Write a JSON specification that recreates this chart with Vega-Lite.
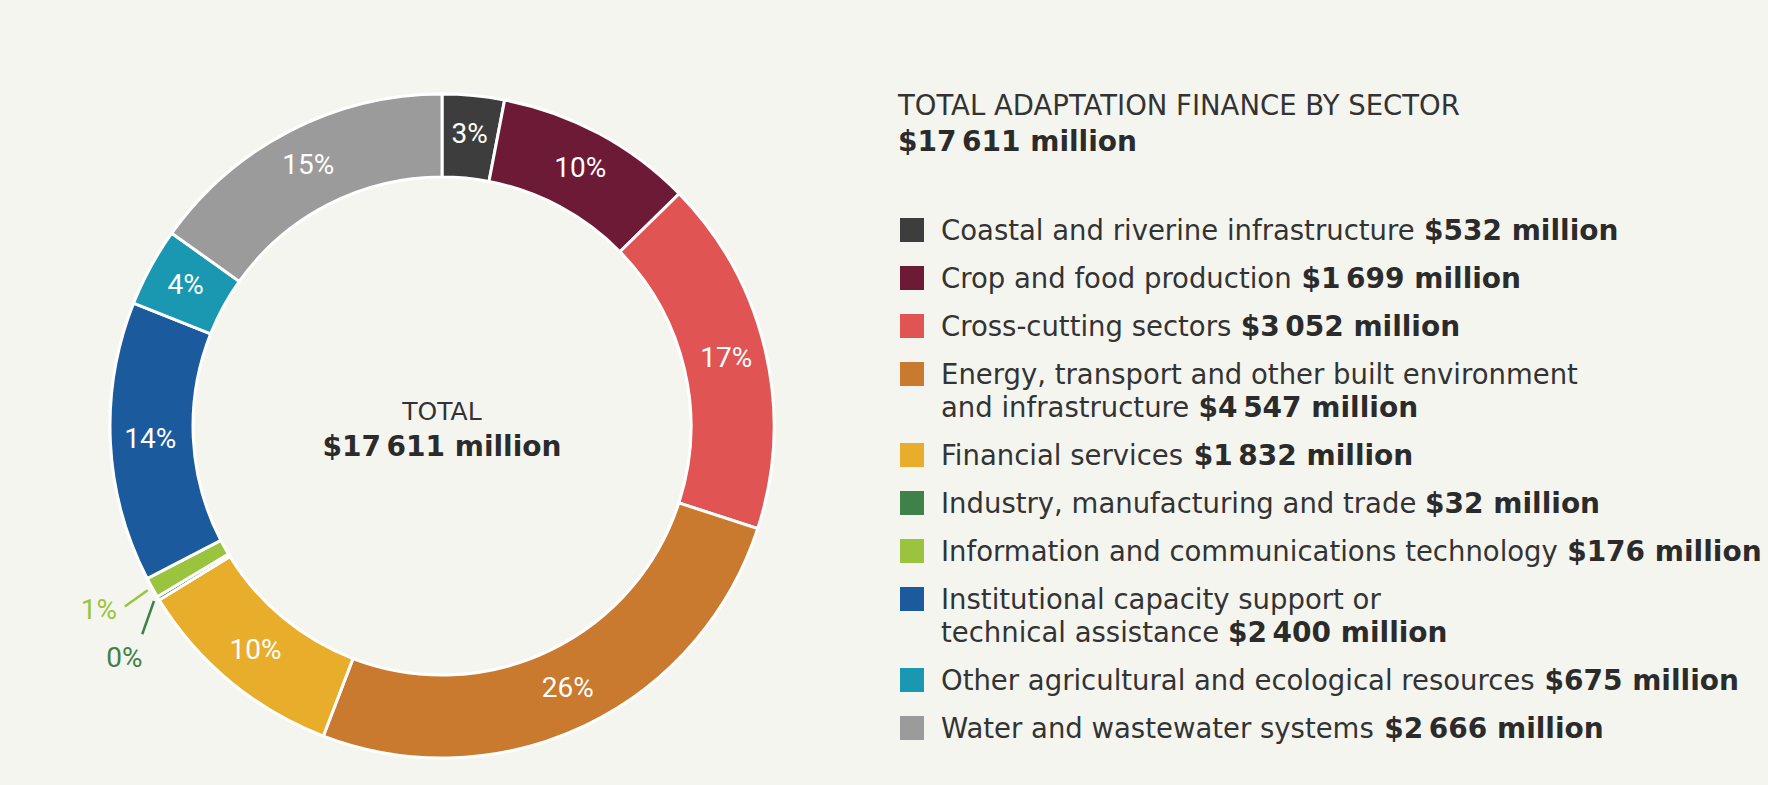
{
  "$schema": "https://vega.github.io/schema/vega-lite/v6.json",
  "background": "#f5f5f0",
  "padding": {"left": 0, "top": 67, "right": 0, "bottom": 0},
  "config": {"view": {"stroke": null}},
  "datasets": {
    "sectors": [
      {"sector": "Coastal and riverine infrastructure", "value": 532},
      {"sector": "Crop and food production", "value": 1699},
      {"sector": "Cross-cutting sectors", "value": 3052},
      {"sector": "Energy, transport and other built environment\nand infrastructure", "value": 4547},
      {"sector": "Financial services", "value": 1832},
      {"sector": "Industry, manufacturing and trade", "value": 32},
      {"sector": "Information and communications technology", "value": 176},
      {"sector": "Institutional capacity support or\ntechnical assistance", "value": 2400},
      {"sector": "Other agricultural and ecological resources", "value": 675},
      {"sector": "Water and wastewater systems", "value": 2666}
    ]
  },
  "data": {"name": "sectors"},
  "transform": [
    {"calculate": "length(split(datum.sector, '\\n')) - 1", "as": "extra"},
    {
      "window": [
        {"op": "row_number", "as": "rank"},
        {"op": "sum", "field": "value", "as": "cum"},
        {"op": "sum", "field": "extra", "as": "cumExtra"}
      ],
      "sort": [{"field": "sector", "order": "ascending"}],
      "frame": [null, 0]
    },
    {"joinaggregate": [{"op": "sum", "field": "value", "as": "total"}]},
    {"calculate": "datum.value / datum.total", "as": "pct"},
    {"calculate": "(datum.cum - datum.value / 2) / datum.total * 2 * PI", "as": "mid"},
    {"calculate": "'$' + replace(format(datum.value, ','), ',', '\u2009') + ' million'", "as": "valueText"},
    {"calculate": "'$' + replace(format(datum.total, ','), ',', '\u2009') + ' million'", "as": "totalText"}
  ],
  "spacing": 0,
  "resolve": {"scale": {"x": "independent", "y": "independent"}},
  "hconcat": [
    {
      "width": 884,
      "height": 718,
      "encoding": {
        "color": {
          "field": "sector",
          "type": "nominal",
          "legend": null,
          "scale": {
            "range": ["#3d3d3d", "#6d1a36", "#e05454", "#c97a2e", "#e8ad2b", "#3f8148", "#9ac43e", "#1b5a9c", "#1a98b2", "#9b9b9b"]
          }
        }
      },
      "layer": [
        {
          "mark": {"type": "arc", "outerRadius": 332, "innerRadius": 249, "stroke": "#ffffff", "strokeWidth": 3},
          "encoding": {
            "theta": {"field": "value", "type": "quantitative", "stack": true},
            "order": {"field": "rank", "type": "quantitative"}
          }
        },
        {
          "transform": [
            {"filter": "datum.pct >= 0.02"},
            {"calculate": "292 * sin(datum.mid)", "as": "lx"},
            {"calculate": "-292 * cos(datum.mid)", "as": "ly"}
          ],
          "mark": {"type": "text", "font": "Roboto", "fontSize": 28, "align": "center", "baseline": "middle"},
          "encoding": {
            "x": {"field": "lx", "type": "quantitative", "axis": null, "scale": {"domain": [-442, 442], "nice": false, "zero": false}},
            "y": {"field": "ly", "type": "quantitative", "axis": null, "scale": {"domain": [-359, 359], "reverse": true, "nice": false, "zero": false}},
            "text": {"field": "pct", "type": "quantitative", "format": ".0%"},
            "color": {"value": "#ffffff"}
          }
        },
        {
          "transform": [
            {"filter": "datum.pct < 0.02"},
            {"calculate": "datum.mid + (datum.pct < 0.005 ? -3.5 : -0.5) * PI / 180", "as": "endAngle"},
            {"calculate": "337 * sin(datum.mid)", "as": "x1"},
            {"calculate": "-337 * cos(datum.mid)", "as": "y1"},
            {"calculate": "365 * sin(datum.endAngle)", "as": "x2"},
            {"calculate": "-365 * cos(datum.endAngle)", "as": "y2"}
          ],
          "mark": {"type": "rule", "strokeWidth": 2.5},
          "encoding": {
            "x": {"field": "x1", "type": "quantitative"},
            "y": {"field": "y1", "type": "quantitative"},
            "x2": {"field": "x2"},
            "y2": {"field": "y2"}
          }
        },
        {
          "transform": [
            {"filter": "datum.pct < 0.02"},
            {"calculate": "datum.mid + (datum.pct < 0.005 ? -5 : 0.8) * PI / 180", "as": "textAngle"},
            {"calculate": "(datum.pct < 0.005 ? 394 : 390) * sin(datum.textAngle)", "as": "tx"},
            {"calculate": "-(datum.pct < 0.005 ? 394 : 390) * cos(datum.textAngle)", "as": "ty"}
          ],
          "mark": {"type": "text", "font": "Roboto", "fontSize": 28, "align": "center", "baseline": "middle"},
          "encoding": {
            "x": {"field": "tx", "type": "quantitative"},
            "y": {"field": "ty", "type": "quantitative"},
            "text": {"field": "pct", "type": "quantitative", "format": ".0%"}
          }
        },
        {
          "transform": [{"filter": "datum.rank == 1"}],
          "mark": {"type": "text", "text": "TOTAL", "font": "DejaVu Sans", "fontSize": 25, "align": "center", "baseline": "alphabetic", "dy": -6.5},
          "encoding": {
            "x": {"datum": 0, "type": "quantitative"},
            "y": {"datum": 0, "type": "quantitative"},
            "color": {"value": "#333333"}
          }
        },
        {
          "transform": [{"filter": "datum.rank == 1"}],
          "mark": {"type": "text", "font": "DejaVu Sans", "fontSize": 28, "fontWeight": "bold", "align": "center", "baseline": "alphabetic", "dy": 29.5},
          "encoding": {
            "x": {"datum": 0, "type": "quantitative"},
            "y": {"datum": 0, "type": "quantitative"},
            "text": {"field": "totalText"},
            "color": {"value": "#2b2b2b"}
          }
        }
      ]
    },
    {
      "width": 884,
      "height": 718,
      "transform": [
        {"calculate": "48 * (datum.rank - 1) + 33 * (datum.cumExtra - datum.extra)", "as": "rowY"},
        {"calculate": "peek(split(datum.sector, '\\n'))", "as": "last"},
        {
          "calculate": "0.6343*length(datum.last) - 0.0215*(length(split(datum.last,'a'))-1) - 0.0845*(length(split(datum.last,'c'))-1) - 0.0191*(length(split(datum.last,'e'))-1) - 0.2822*(length(split(datum.last,'f'))-1) - 0.3565*(length(split(datum.last,'i'))-1) - 0.3565*(length(split(datum.last,'j'))-1) - 0.0552*(length(split(datum.last,'k'))-1) - 0.3565*(length(split(datum.last,'l'))-1) + 0.3398*(length(split(datum.last,'m'))-1) - 0.0225*(length(split(datum.last,'o'))-1) - 0.2232*(length(split(datum.last,'r'))-1) - 0.1133*(length(split(datum.last,'s'))-1) - 0.2422*(length(split(datum.last,'t'))-1) - 0.0425*(length(split(datum.last,'v'))-1) + 0.1836*(length(split(datum.last,'w'))-1) - 0.0425*(length(split(datum.last,'y'))-1) - 0.3164*(length(split(datum.last,' '))-1) - 0.3164*(length(split(datum.last,','))-1) - 0.2735*(length(split(datum.last,'-'))-1) + 0.0639*(length(split(datum.last,'C'))-1) - 0.0591*(length(split(datum.last,'F'))-1) - 0.3394*(length(split(datum.last,'I'))-1) + 0.1528*(length(split(datum.last,'O'))-1) + 0.3545*(length(split(datum.last,'W'))-1)",
          "as": "lastEm"
        },
        {"calculate": "57 + 27.5 * (datum.lastEm + 0.3179)", "as": "valueX"},
        {"calculate": "datum.rowY + 33 * datum.extra", "as": "valueY"}
      ],
      "layer": [
        {
          "mark": {"type": "square", "size": 576, "filled": true, "opacity": 1},
          "encoding": {
            "x": {"datum": 28, "type": "quantitative", "axis": null, "scale": {"domain": [0, 884], "nice": false, "zero": false}},
            "y": {"field": "rowY", "type": "quantitative", "axis": null, "scale": {"domain": [-163, 555], "reverse": true, "nice": false, "zero": false}},
            "color": {
              "field": "sector",
              "type": "nominal",
              "legend": null,
              "scale": {
                "range": ["#3d3d3d", "#6d1a36", "#e05454", "#c97a2e", "#e8ad2b", "#3f8148", "#9ac43e", "#1b5a9c", "#1a98b2", "#9b9b9b"]
              }
            }
          }
        },
        {
          "mark": {"type": "text", "font": "DejaVu Sans", "fontSize": 27.5, "fill": "#333333", "align": "left", "baseline": "alphabetic", "dy": 10, "lineBreak": "\n", "lineHeight": 33},
          "encoding": {
            "x": {"datum": 57, "type": "quantitative"},
            "y": {"field": "rowY", "type": "quantitative"},
            "text": {"field": "sector"}
          }
        },
        {
          "mark": {"type": "text", "font": "DejaVu Sans", "fontSize": 28, "fontWeight": "bold", "fill": "#2b2b2b", "align": "left", "baseline": "alphabetic", "dy": 10},
          "encoding": {
            "x": {"field": "valueX", "type": "quantitative"},
            "y": {"field": "valueY", "type": "quantitative"},
            "text": {"field": "valueText"}
          }
        },
        {
          "transform": [{"filter": "datum.rank == 1"}],
          "mark": {"type": "text", "text": "TOTAL ADAPTATION FINANCE BY SECTOR", "font": "DejaVu Sans", "fontSize": 27.5, "fill": "#333333", "align": "left", "baseline": "alphabetic"},
          "encoding": {
            "x": {"datum": 14, "type": "quantitative"},
            "y": {"datum": -115, "type": "quantitative"}
          }
        },
        {
          "transform": [{"filter": "datum.rank == 1"}],
          "mark": {"type": "text", "font": "DejaVu Sans", "fontSize": 28, "fontWeight": "bold", "fill": "#2b2b2b", "align": "left", "baseline": "alphabetic"},
          "encoding": {
            "x": {"datum": 14, "type": "quantitative"},
            "y": {"datum": -79, "type": "quantitative"},
            "text": {"field": "totalText"}
          }
        }
      ]
    }
  ]
}
